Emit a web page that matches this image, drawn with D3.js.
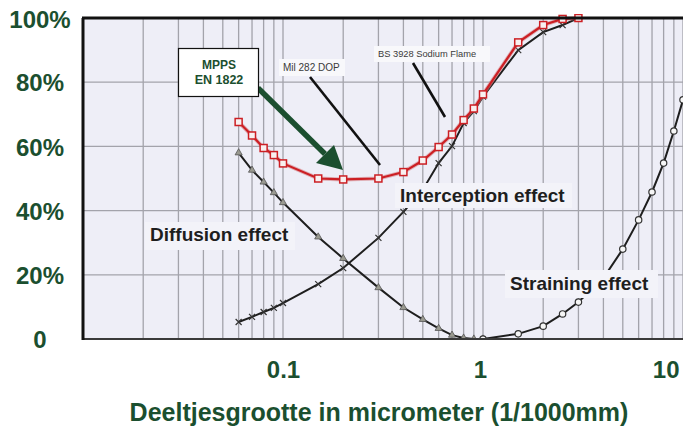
<!DOCTYPE html>
<html><head><meta charset="utf-8">
<script src="https://cdn.jsdelivr.net/npm/d3@7"></script>
<style>
html,body{margin:0;padding:0;background:#fff;}
svg{display:block;font-family:"Liberation Sans",Arial,sans-serif;}
</style></head>
<body><svg id="c" width="683" height="431"></svg>
<script>
// ---- data ----
const sizes = [0.06,0.07,0.08,0.09,0.1,0.15,0.2,0.3,0.4,0.5,0.6,0.7,0.8,0.9,1,1.5,2,2.5,3];
const totalEfficiency = [67.6,63.4,59.5,57.3,54.7,50.0,49.7,50.0,52.0,55.6,59.8,63.7,68.2,71.8,76.2,92.4,97.8,99.7,100];
const interception = [5.3,6.9,8.4,9.7,11.2,17.1,22.1,31.5,39.6,46.5,54.8,60.1,67.3,71.0,75.5,90.0,95.6,97.8,100];
const diffusionSizes = [0.06,0.07,0.08,0.09,0.1,0.15,0.2,0.3,0.4,0.5,0.6,0.7,0.8,0.9,1];
const diffusion = [58.0,52.6,48.9,45.6,42.5,31.8,25.1,16.0,9.8,6.1,3.3,1.2,0.3,0,0];
const strainingSizes = [1,1.5,2,2.5,3,4,5,6,7,8,9,10];
const straining = [0,1.6,4.0,7.8,11.5,19.0,28.0,37.1,45.8,54.8,64.8,74.5];
const xTicks = [0.1,1,10];
const yTicks = [0,20,40,60,80,100];
const xTitle = "Deeltjesgrootte in micrometer (1/1000mm)";
const curveLabels = ["Diffusion effect","Interception effect","Straining effect"];
const noteLabels = ["Mil 282 DOP","BS 3928 Sodium Flame"];
const mppsLines = ["MPPS","EN 1822"];

// ---- layout ----
const green = "#1b4f2f";
const L = 83, R = 683, T = 18, B = 339;
const svg = d3.select("#c");
const x = d3.scaleLog().domain([0.01,10]).range([L,R]);
const y = d3.scaleLinear().domain([0,100]).range([B,T]);

svg.append("rect").attr("x",L).attr("y",T).attr("width",R-L).attr("height",B-T).attr("fill","#eeeef7");

// grid
const gridX = [];
[0.01,0.1,1].forEach(d=>{for(let k=2;k<=10;k++) gridX.push(+(d*k).toPrecision(3));});
const g = svg.append("g").attr("stroke","#a3a3ab").attr("stroke-width",1.3);
g.selectAll("line.v").data(gridX).join("line")
  .attr("x1",d=>x(d)).attr("x2",d=>x(d)).attr("y1",T).attr("y2",B);
g.selectAll("line.h").data([20,40,60,80]).join("line").attr("class","h")
  .attr("x1",L).attr("x2",R).attr("y1",d=>y(d)).attr("y2",d=>y(d));

svg.append("clipPath").attr("id","pc").append("rect")
  .attr("x",L).attr("y",T-4).attr("width",R-L).attr("height",B-T+4);
const plot = svg.append("g").attr("clip-path","url(#pc)");
const line = d3.line().x(d=>x(d[0])).y(d=>y(d[1]));

function series(xs, ys){ return xs.map((v,i)=>[v,ys[i]]); }

// interception (x markers)
const inter = series(sizes, interception);
plot.append("path").attr("d",line(inter)).attr("fill","none").attr("stroke","#1e1e1e").attr("stroke-width",2);
plot.selectAll("path.xm").data(inter).join("path").attr("class","xm")
  .attr("transform",d=>`translate(${x(d[0])},${y(d[1])})`)
  .attr("d","M-3,-3L3,3M-3,3L3,-3").attr("stroke","#333").attr("stroke-width",1.2);

// diffusion (triangles)
const diff = series(diffusionSizes, diffusion);
plot.append("path").attr("d",line(diff)).attr("fill","none").attr("stroke","#1e1e1e").attr("stroke-width",2);
plot.selectAll("path.tm").data(diff).join("path").attr("class","tm")
  .attr("transform",d=>`translate(${x(d[0])},${y(d[1])})`)
  .attr("d",d3.symbol(d3.symbolTriangle,22)()).attr("fill","#9a9a90").attr("stroke","#555").attr("stroke-width",0.8);

// straining (circles)
const str = series(strainingSizes, straining);
plot.append("path").attr("d",line(str)).attr("fill","none").attr("stroke","#1e1e1e").attr("stroke-width",2);
plot.selectAll("circle.cm").data(str).join("circle").attr("class","cm")
  .attr("cx",d=>x(d[0])).attr("cy",d=>y(d[1])).attr("r",3.2)
  .attr("fill","#f6f6f6").attr("stroke","#333").attr("stroke-width",1.2);

// total efficiency (red squares)
const tot = series(sizes, totalEfficiency);
plot.append("path").attr("d",line(tot)).attr("fill","none").attr("stroke","#d6868a").attr("stroke-width",4).attr("opacity",0.6);
plot.append("path").attr("d",line(tot)).attr("fill","none").attr("stroke","#cc1f24").attr("stroke-width",2.2);
plot.selectAll("rect.sm").data(tot).join("rect").attr("class","sm")
  .attr("x",d=>x(d[0])-3.5).attr("y",d=>y(d[1])-3.5).attr("width",7).attr("height",7)
  .attr("fill","#f8f0f0").attr("stroke","#cc1f24").attr("stroke-width",1.5);

// curve labels with background boxes
const labelSpecs = [
  {t:curveLabels[0], x:150, y:241, box:[145,222,150,28]},
  {t:curveLabels[1], x:400, y:202, box:[395,183,177,25]},
  {t:curveLabels[2], x:510, y:290, box:[505,270,153,28]}
];
labelSpecs.forEach(s=>{
  svg.append("rect").attr("x",s.box[0]).attr("y",s.box[1]).attr("width",s.box[2]).attr("height",s.box[3]).attr("fill","#f3f3f9");
  svg.append("text").attr("x",s.x).attr("y",s.y).attr("font-size",19).attr("font-weight","bold").attr("fill","#1e1e1e").text(s.t);
});

// note labels
const notes = [
  {t:noteLabels[0], x:283, y:71, fs:10, box:[279,59,66,17]},
  {t:noteLabels[1], x:378, y:57, fs:9.3, box:[374,46,116,16]}
];
notes.forEach(s=>{
  svg.append("rect").attr("x",s.box[0]).attr("y",s.box[1]).attr("width",s.box[2]).attr("height",s.box[3]).attr("fill","#f8f8fb");
  svg.append("text").attr("x",s.x).attr("y",s.y).attr("font-size",s.fs).attr("fill","#3a3a3a").text(s.t);
});
// leader lines
svg.append("line").attr("x1",310).attr("y1",77).attr("x2",380).attr("y2",165).attr("stroke","#111").attr("stroke-width",2.6);
svg.append("line").attr("x1",413).attr("y1",63).attr("x2",445).attr("y2",117).attr("stroke","#111").attr("stroke-width",2.6);

// MPPS arrow
svg.append("line").attr("x1",258).attr("y1",88).attr("x2",325).attr("y2",154).attr("stroke",green).attr("stroke-width",5.5);
svg.append("path").attr("d","M343,170 L316,163 L334,145 Z").attr("fill",green);

// MPPS box
svg.append("rect").attr("x",178.5).attr("y",48.5).attr("width",80).attr("height",48).attr("fill","#fff").attr("stroke","#111").attr("stroke-width",1.2);
svg.append("text").attr("x",219).attr("y",69).attr("text-anchor","middle").attr("font-size",12).attr("font-weight","bold").attr("fill",green).text(mppsLines[0]);
svg.append("text").attr("x",219).attr("y",83.5).attr("text-anchor","middle").attr("font-size",12.5).attr("font-weight","bold").attr("fill",green).text(mppsLines[1]);

// frame
svg.append("line").attr("x1",L).attr("x2",R).attr("y1",B).attr("y2",B).attr("stroke","#3a3a3a").attr("stroke-width",2);
svg.append("line").attr("x1",L-1).attr("x2",R).attr("y1",T).attr("y2",T).attr("stroke","#111").attr("stroke-width",3);
svg.append("line").attr("x1",L).attr("x2",L).attr("y1",T).attr("y2",B+1).attr("stroke","#111").attr("stroke-width",3);

// axes
const ya = svg.append("g").attr("transform",`translate(${L},0)`)
  .call(d3.axisLeft(y).tickValues(yTicks).tickSize(0).tickFormat(d=>d===0?"0":d+"%"));
ya.select(".domain").remove();
ya.selectAll("text").attr("x",-43).attr("text-anchor","middle").attr("dy","0.36em")
  .attr("font-size",24).attr("font-weight","bold").attr("fill",green).attr("font-family","Liberation Sans, Arial, sans-serif");
ya.select(".tick:last-of-type text").attr("dy","0.40em");

const xa = svg.append("g").attr("transform",`translate(0,${B})`)
  .call(d3.axisBottom(x).tickValues(xTicks).tickSize(0).tickFormat(d=>String(d)));
xa.select(".domain").remove();
xa.selectAll("text").attr("y",39).attr("dy",0)
  .attr("font-size",24).attr("font-weight","bold").attr("fill",green).attr("font-family","Liberation Sans, Arial, sans-serif");
xa.selectAll("text").each(function(d){
  const w = this.getComputedTextLength();
  const cx = x(d), maxR = 679;
  if (cx + w/2 > maxR) d3.select(this).attr("dx", maxR - w/2 - cx);
  else if (d===1) d3.select(this).attr("dx",-3);
});

svg.append("text").attr("x",379).attr("y",421).attr("text-anchor","middle")
  .attr("font-size",25).attr("font-weight","bold").attr("fill",green).text(xTitle);
</script></body></html>
